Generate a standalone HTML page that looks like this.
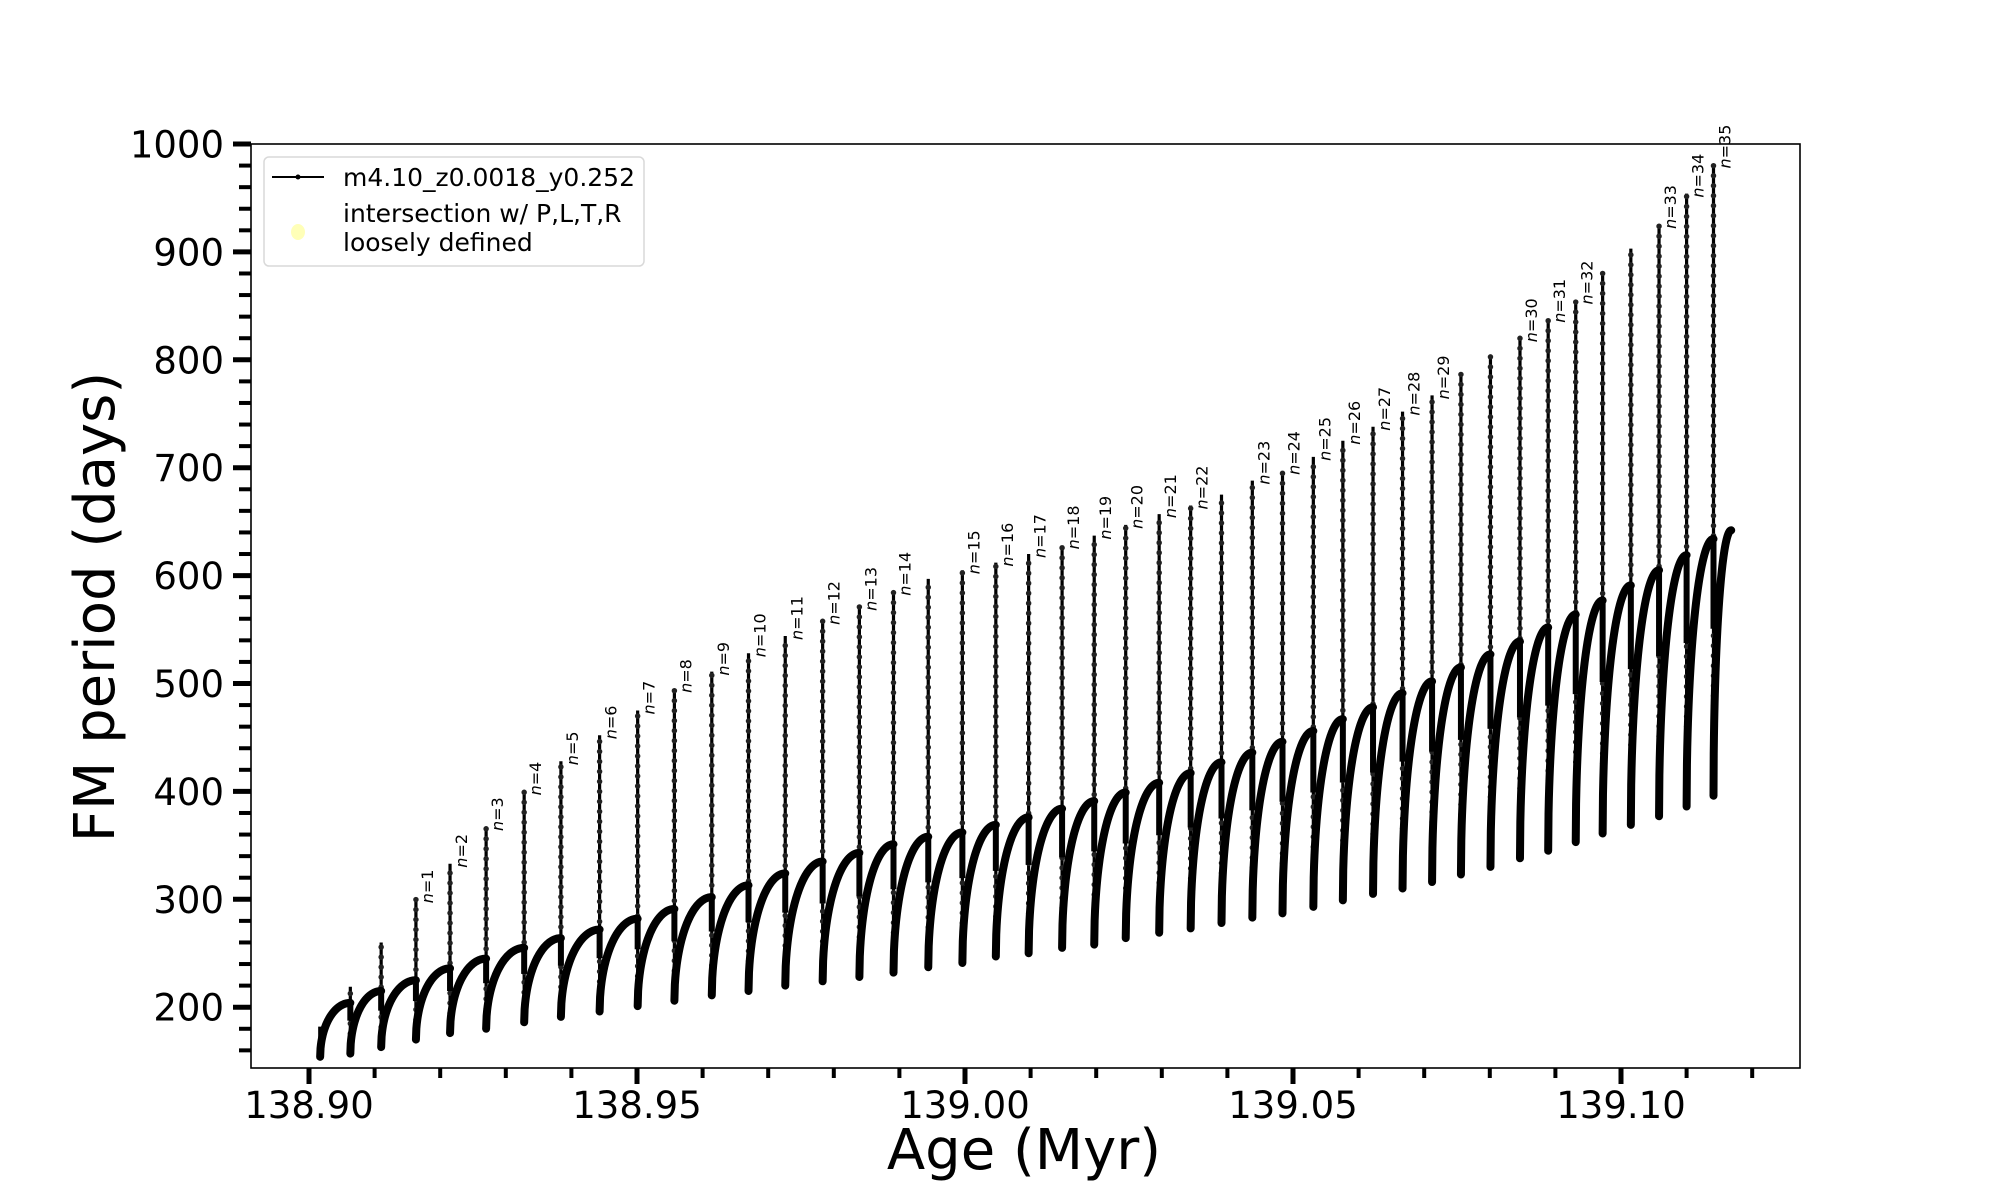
<!DOCTYPE html>
<html><head><meta charset="utf-8"><style>
html,body{margin:0;padding:0;background:#fff;}
svg{display:block;font-family:"DejaVu Sans","Liberation Sans",sans-serif;}
</style></head><body>
<svg id="chart" width="2000" height="1200" viewBox="0 0 2000 1200">
<rect x="0" y="0" width="2000" height="1200" fill="#fff"/>
<g id="marks"></g>
<rect x="251" y="144" width="1549" height="924" fill="none" stroke="#000" stroke-width="1.6"/>
<g id="axes"></g>
<text x="1024" y="1169" font-size="56" text-anchor="middle">Age (Myr)</text>
<text transform="translate(114,607) rotate(-90)" font-size="56" text-anchor="middle">FM period (days)</text>
<g>
<rect x="264" y="157" width="380" height="109" rx="5" fill="#fff" fill-opacity="0.8" stroke="#d9d9d9" stroke-width="1.5"/>
<line x1="272" y1="177" x2="324" y2="177" stroke="#000" stroke-width="2"/>
<circle cx="298" cy="177" r="2.5" fill="#000"/>
<text x="343" y="186" font-size="25">m4.10_z0.0018_y0.252</text>
<ellipse cx="298" cy="232" rx="7" ry="8" fill="#ffffb8"/>
<text x="343" y="222" font-size="25">intersection w/ P,L,T,R</text>
<text x="343" y="251" font-size="25">loosely defined</text>
</g>
</svg>
<script>
const startAge = 138.9017;
const startValue = 182;
const endAge = 139.1168;
const spikeAges = [138.9063,138.9110,138.9163,138.9215,138.9270,138.9328,138.9384,138.9443,138.9501,138.9557,138.9614,138.9670,138.9726,138.9783,138.9839,138.9891,138.9944,138.9996,139.0047,139.0097,139.0148,139.0197,139.0245,139.0296,139.0344,139.0391,139.0438,139.0484,139.0531,139.0576,139.0622,139.0667,139.0712,139.0756,139.0801,139.0846,139.0889,139.0931,139.0972,139.1015,139.1058,139.1100,139.1141];
const peakValues = [219,260,300,333,367,400,428,452,475,495,511,528,544,558,571,585,597,605,612,620,628,637,647,657,665,675,688,697,710,725,738,752,767,788,804,820,838,855,880,903,925,954,981];
const minValues = [154,157,163,170,176,180,186,191,196,201,206,211,215,220,224,228,232,237,241,247,250,255,258,264,269,273,278,283,287,293,299,305,310,316,323,330,338,345,353,361,369,377,386,396];
const plateauValues = [204,215,225,236,245,255,264,272,282,291,302,313,324,335,343,351,358,362,369,376,384,391,399,408,417,427,436,446,456,467,478,491,502,515,527,539,552,564,577,591,605,619,634,642];
const spikeLabels = [null,null,1,2,3,4,5,6,7,8,9,10,11,12,13,14,null,15,16,17,18,19,20,21,22,null,23,24,25,26,27,28,29,null,null,30,31,32,null,null,33,34,35];
const xMajorTicks = [138.90,138.95,139.00,139.05,139.10];
const xMajorLabels = ["138.90","138.95","139.00","139.05","139.10"];
const xMinorTicks = [138.91,138.92,138.93,138.94,138.96,138.97,138.98,138.99,139.01,139.02,139.03,139.04,139.06,139.07,139.08,139.09,139.11,139.12];
const yMajorTicks = [200,300,400,500,600,700,800,900,1000];
const yMinorTicks = [160,180,220,240,260,280,320,340,360,380,420,440,460,480,520,540,560,580,620,640,660,680,720,740,760,780,820,840,860,880,920,940,960,980];

const NS = "http://www.w3.org/2000/svg";
function X(a){ return 309 + (a - 138.90) / 0.05 * 328; }
function Y(v){ return 144 + (1000 - v) * 1.079; }
function mk(tag, attrs, parent){
  const e = document.createElementNS(NS, tag);
  for (const k in attrs) e.setAttribute(k, attrs[k]);
  parent.appendChild(e);
  return e;
}
const marks = document.getElementById('marks');
const axes = document.getElementById('axes');

const segStarts = [startAge].concat(spikeAges);
const segEnds = spikeAges.concat([endAge]);

for (let i = 0; i < spikeAges.length; i++) {
  const x = X(spikeAges[i]);
  const ln = mk('line', {x1:x, y1:Y(minValues[i+1]), x2:x, y2:Y(peakValues[i]), stroke:'#000', 'stroke-width':3.2}, marks);
  
  
  const dots = mk('line', {x1:x, y1:Y(minValues[i+1]), x2:x, y2:Y(peakValues[i]), stroke:'#222', 'stroke-width':5.5, 'stroke-linecap':'round', 'stroke-dasharray':'0 10'}, marks);
  
  
  const dropEnd = plateauValues[i] - (plateauValues[i] - minValues[i+1]) * 0.35;
  const drop = mk('line', {x1:x, y1:Y(plateauValues[i]), x2:x, y2:Y(dropEnd), stroke:'#000', 'stroke-width':6}, marks);
  
  
  if (spikeLabels[i] !== null) {
    const tx = x + 17, ty = Y(peakValues[i]) + 4;
    const t = mk('text', {transform:'translate('+tx+','+ty+') rotate(-90)', 'font-size':16}, marks);
    const ts = mk('tspan', {'font-style':'italic'}, t);
    ts.textContent = 'n';
    
    
    t.appendChild(document.createTextNode('=' + spikeLabels[i]));
    
    
  }
}
const init = mk('line', {x1:X(startAge), y1:Y(startValue), x2:X(startAge), y2:Y(minValues[0]), stroke:'#000', 'stroke-width':4}, marks);



for (let s = 0; s < segStarts.length; s++) {
  const a0 = segStarts[s], a1 = segEnds[s];
  const m = minValues[s], p = plateauValues[s];
  let d = '';
  const N = 80;
  for (let k = 0; k <= N; k++) {
    const t = k / N;
    const a = a0 + (a1 - a0) * t;
    const f = Math.sqrt(1 - (1 - t) * (1 - t));
    const v = m + (p - m) * f;
    d += (k ? 'L' : 'M') + X(a).toFixed(2) + ' ' + Y(v).toFixed(2);
  }
  const path = mk('path', {d:d, fill:'none', stroke:'#000', 'stroke-width':8, 'stroke-linejoin':'round', 'stroke-linecap':'round'}, marks);
  
  
}

xMajorTicks.forEach((v, i) => {
  const x = X(v);
  const tk = mk('line', {x1:x, y1:1068, x2:x, y2:1084, stroke:'#000', 'stroke-width':5}, axes);
  
  
  const lb = mk('text', {x:x, y:1118, 'font-size':37, 'text-anchor':'middle'}, axes);
  lb.textContent = xMajorLabels[i];
  
  
});
xMinorTicks.forEach(v => {
  const x = X(v);
  const tk = mk('line', {x1:x, y1:1068, x2:x, y2:1078, stroke:'#000', 'stroke-width':4}, axes);
  
  
});
yMajorTicks.forEach(v => {
  const y = Y(v);
  const tk = mk('line', {x1:233, y1:y, x2:251, y2:y, stroke:'#000', 'stroke-width':5}, axes);
  
  
  const lb = mk('text', {x:224, y:y + 13.5, 'font-size':37, 'text-anchor':'end'}, axes);
  lb.textContent = String(v);
  
  
});
yMinorTicks.forEach(v => {
  const y = Y(v);
  const tk = mk('line', {x1:239, y1:y, x2:251, y2:y, stroke:'#000', 'stroke-width':4}, axes);
  
  
});
</script>
</body></html>
